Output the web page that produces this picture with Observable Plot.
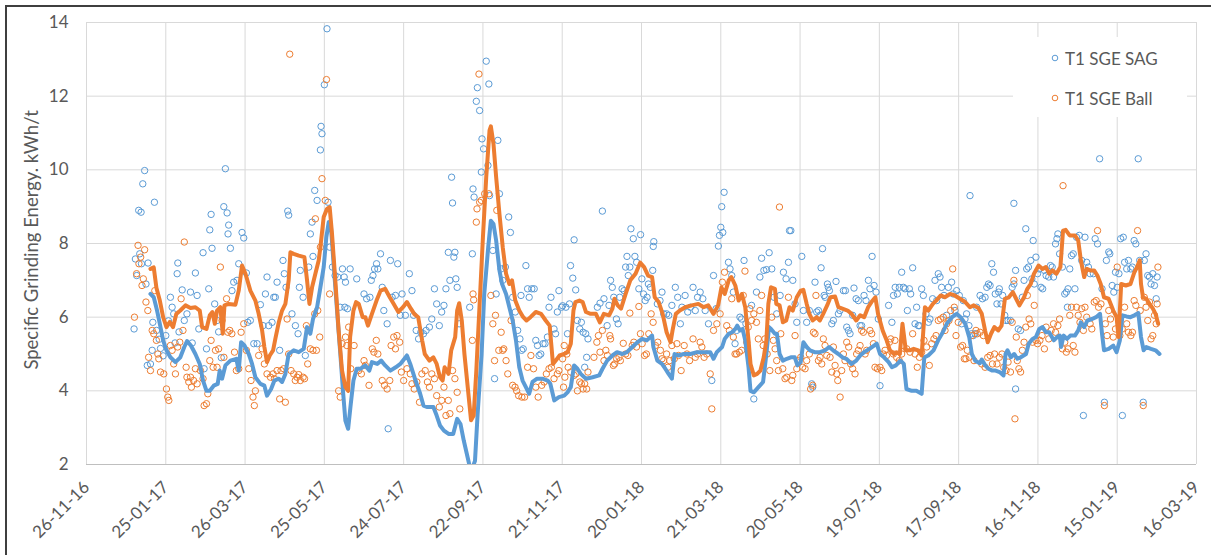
<!DOCTYPE html>
<html>
<head>
<meta charset="utf-8">
<script src="https://cdn.jsdelivr.net/npm/d3@7"></script>
<script src="https://cdn.jsdelivr.net/npm/@observablehq/plot@0.6"></script>
<style>
  body { margin: 0; background: #fff; font-family: Lato, "Open Sans", sans-serif; }
  #wrap { position: relative; width: 1211px; height: 555px; overflow: hidden; }
  #frame { position: absolute; left: 5px; top: 5px; width: 1300px; height: 700px;
           border-left: 2px solid #3f3f3f; border-top: 2px solid #3f3f3f; pointer-events: none; }
  #legend { position: absolute; left: 1013px; top: 37px; width: 174px; height: 80px; background: #fff;
            font-size: 17px; color: #595959; }
  #legend .item { position: absolute; left: 38px; display: flex; align-items: center; height: 20px; }
  #legend svg { margin-right: 6px; }
</style>
</head>
<body>
<div id="wrap">
  <div id="chart"></div>
  <div id="legend"></div>
  <div id="frame"></div>
</div>
<script>
// day offsets are counted from 26-11-16, the first tick
const startDate = Date.UTC(2016, 10, 26)
const tickDays = [0, 60, 120, 180, 240, 300, 360, 420, 480, 540, 600, 660, 720, 780, 840]
const yTicks = [2, 4, 6, 8, 10, 12, 14]
const seriesNames = ['T1 SGE SAG', 'T1 SGE Ball']
const yTitle = 'Specific Grinding Energy. kWh/t'

// daily SAG points [day, kWh/t]
const sagPts = [
  [36,5.68],[37,7.58],[38,7.13],[39.5,8.9],[40.3,7.72],[41.3,8.85],[41.6,7.45],[42.6,9.62],[44,9.98],[45,6.9],[46,4.69],[46.6,7.47],[48.4,4.73],[49.7,5.1],[50.2,5.86],[51.4,9.12],[53,5.64],[55,5.4],[56,5.15],[58,4.95],[60,5.5],[62,5.9],[63.5,6.54],[64.8,6.27],[66,6.09],[67,5.3],[68.6,7.18],[69.1,7.47],[70,5.6],[72.4,6.74],[74,5.91],[76,6.09],[78.7,6.68],[80,5.3],[82.4,7.2],[83.7,6.59],[85,5.68],[88.2,7.75],[89,4.6],[90.8,5.14],[92.5,6.77],[93.3,8.37],[94.3,8.79],[95,7.87],[97,6.36],[98.8,5.91],[100,5.6],[102,4.9],[103.9,9.0],[105.1,10.03],[106.4,8.83],[107.1,8.26],[107.6,8.5],[108.9,7.87],[110.1,6.72],[111.4,6.95],[113.9,7.0],[115.2,7.45],[117.7,8.3],[119,8.15],[121,7.2],[122,5.86],[124,5.91],[126.6,5.28],[129.1,5.28],[131.6,6.34],[133.6,5.77],[135.4,6.63],[136.6,7.09],[137.9,5.77],[140.4,5.86],[141.7,6.54],[142.9,6.54],[144.2,6.95],[146.2,5.1],[148.7,7.54],[149.7,7.18],[151,6.81],[152.3,8.88],[153,8.77],[155.5,6.09],[158.1,5.77],[160.1,5.55],[161.1,6.81],[161.8,7.27],[163.9,6.54],[165.6,4.96],[168.2,7.36],[169.4,8.26],[170.7,8.58],[171.4,7.65],[172.7,9.44],[174.5,9.17],[177,10.54],[177.5,11.18],[178.2,10.98],[180,12.31],[182,13.83],[182.8,9.12],[184,7.9],[186.1,7.36],[188.1,7.13],[190.1,7.09],[191.9,6.27],
  [193.7,7.31],[195,7.09],[195.5,6.27],[196,6.95],[197.5,6.23],[199.5,7.31],[204.5,7.04],[210,6.63],[212,6.5],[214.5,6.54],[215.5,7.0],[216.8,7.13],[218,7.31],[219.5,7.45],[220.5,7.31],[222.5,7.72],[223.8,6.81],[225,6.18],[227.5,5.82],[228.3,2.97],[230,7.54],[231.3,6.54],[233.8,6.59],[235.5,7.45],[237.5,6.05],[238.8,6.63],[241.3,6.05],[244.3,7.18],[246.3,6.72],[247.5,6.05],[249.5,5.64],[251.3,5.41],[253,5.59],[255,5.55],[257,5.64],[259.5,5.73],[261.3,5.95],[263.3,6.77],[265,6.36],[267,5.77],[268.8,6.14],[270.5,6.32],[272,6.77],[273.8,7.76],[275,7.0],[276.3,9.8],[277,9.1],[278,7.63],[278.8,7.76],[279.5,7.04],[280.5,6.81],[282,5.82],[290,6.27],[292,7.72],[292.5,9.48],[293.3,9.26],[295,11.86],[295.8,12.23],[297.5,11.61],[298.8,9.94],[299.3,10.84],[300.5,10.57],[302.5,12.95],[303.8,10.12],[304.5,12.33],[305,9.3],[307.5,7.81],[308.8,4.33],[310,6.63],[311.3,10.8],[312.5,9.35],[313.8,7.31],[315,7.0],[317,7.36],[319.5,8.72],[320.8,8.3],[322.5,6.54],[324.5,6.14],[326.3,5.64],[328,5.41],[328.8,6.59],[329.3,5.1],[330.5,5.14],[332.5,7.4],[333.8,6.77],[335,6.54],[337,6.77],[338.8,6.77],[340,5.37],[341.3,5.23],[342.5,4.96],[343.8,5.0],[345.5,5.28],[347,5.28],[348.8,5.46],[350,6.27],[351.5,6.54],[353.8,5.68],[355,5.55],[356.3,6.14],[357.5,6.72],
  [359.5,6.27],[360.3,6.31],[362.8,6.27],[364,5.55],[365.5,6.36],[366.3,7.4],[368,7.06],[369,8.1],[370.2,6.74],[371.4,5.91],[373.3,5.68],[374.5,5.86],[375.8,5.59],[377,4.64],[377.8,5.55],[378.5,4.91],[379.5,5.41],[386.6,6.27],[388.6,6.38],[390.4,8.88],[391.6,6.5],[394,5.77],[395.4,6.32],[396.6,7.0],[397.9,6.81],[399,6.54],[401,5.95],[402.3,5.82],[403.5,6.54],[405.3,6.77],[406.8,6.72],[408,7.36],[409,7.65],[410,7.13],[411.2,7.36],[412,8.4],[413.8,8.13],[415,7.65],[416.3,7.49],[418,6.77],[419.3,8.24],[420.3,7.04],[421.5,6.63],[422.8,6.45],[424.2,6.54],[425.2,6.9],[426.7,6.81],[428.5,7.27],[428.9,7.92],[429.3,8.05],[432,6.36],[434,6.45],[435.5,6.68],[436.8,6.09],[439,6.09],[440.6,6.05],[443,6.32],[445.6,6.81],[447.4,6.54],[449.4,5.82],[450.6,6.27],[453,6.59],[455,6.14],[457,6.27],[459,6.81],[460.7,6.18],[462.4,6.54],[464.4,6.68],[466.4,6.5],[468.2,6.18],[470.7,5.82],[473.2,4.28],[474.5,7.13],[476.5,6.23],[478.2,7.93],[479,8.22],[480,8.44],[480.7,9.0],[481.5,8.3],[482.5,9.39],[485.8,7.49],[487,7.31],[488.3,7.13],[489.5,6.68],[490.8,5.28],[492,5.64],[494.5,6.0],[495.8,5.95],[497.6,7.54],[499,5.82],[503.3,6.32],[505,3.78],[507,6.68],[509.6,7.09],[510.9,7.6],[512.6,7.27],[514.6,7.29],[516.6,7.75],
  [518.6,7.31],[520.3,6.54],[522.3,6.09],[524.9,6.59],[527.4,7.22],[529.4,7.04],[531.2,7.49],[532,8.35],[533,8.35],[534.5,7.0],[536.2,6.36],[537.5,5.86],[541.3,7.65],[542.5,6.18],[545,5.86],[547,6.18],[548.8,4.19],[549.6,4.1],[551.3,6.95],[552.6,6.14],[553.9,6.18],[555.1,6.05],[555.9,7.34],[557,7.86],[558.2,6.59],[559,6.54],[560.7,6.9],[561.4,6.81],[562.2,6.72],[564,5.82],[565.2,5.91],[567.2,6.97],[569,6.09],[570.2,6.18],[572.8,6.72],[574.3,6.72],[575.3,5.73],[576.6,5.64],[577.8,5.55],[579.8,6.05],[580.8,6.79],[582.4,6.5],[584.1,6.45],[585.4,5.77],[586.6,5.77],[588.4,6.59],[589.9,6.45],[591.7,7.0],[592.9,6.77],[594.5,7.65],[596,6.86],[597.5,6.68],[599.2,5.95],[600.5,4.14],[607,6.32],[609.5,5.86],[610.7,6.59],[612,6.81],[613.6,6.63],[615.1,6.81],[616.9,7.22],[618.2,6.81],[619.4,6.77],[621.2,6.18],[622.7,6.77],[623.7,6.63],[625.2,7.34],[627,5.82],[628.2,6.27],[629.5,5.77],[630.3,5.77],[632,6.77],[633.3,6.59],[635.3,6.09],[637.1,5.86],[638.3,5.95],[640.3,6.5],[642.1,7.0],[643.4,6.45],[644.6,7.18],[645.9,7.09],[647.1,6.81],[648.9,6.59],[650.9,6.05],[652.2,6.81],[654.7,6.95],[655.9,6.63],[657.2,6.18],[658.5,6.72],[660.5,6.59],[662.3,5.82],[663.5,6.45],[664.8,5.95],[666,6.09],[667.8,5.77],[668.6,9.3],[669.8,5.55],[671.1,5.5],[672.4,5.55],[673.6,6.27],
  [676.2,6.59],[678,6.5],[680,6.54],[681.3,6.81],[682.6,6.9],[683.8,6.86],[685.1,7.45],[686.4,7.22],[687.7,6.63],[689,6.36],[690.3,6.68],[690.8,6.77],[692.1,6.36],[693.3,6.59],[694.9,6.05],[695.9,5.91],[697.4,5.91],[699.2,5.91],[700.5,6.81],[701.8,6.9],[701.8,9.09],[703.1,7.27],[703.1,4.05],[705.1,5.68],[706.9,5.64],[708.2,6.54],[709.5,7.0],[710.8,8.4],[711.5,7.31],[712.8,7.36],[714.6,7.54],[715.4,7.04],[716.4,8.08],[717.2,6.9],[718.5,7.63],[719.7,7.18],[721,7.31],[722.3,6.81],[723.6,6.77],[724.9,7.27],[726.2,7.13],[728.2,7.09],[729.5,7.4],[730.8,7.36],[731.8,7.09],[733.3,7.99],[734.4,8.13],[735.1,8.26],[736.4,7.72],[738.5,7.36],[740.3,6.63],[741.5,6.68],[742.3,6.27],[742.8,6.77],[744.1,7.31],[745.4,7.67],[746.7,7.72],[748,6.77],[749.2,8.17],[751.3,8.22],[753.1,7.54],[754.4,3.33],[755.6,8.17],[756.9,7.49],[758.2,7.36],[759.5,7.18],[762,7.18],[763.3,8.13],[765.1,7.99],[766.7,10.3],[768.5,6.77],[770.3,3.69],[771.8,7.54],[773.6,7.77],[774.4,7.72],[776.2,6.86],[777.4,6.68],[778.7,7.22],[780,6.81],[781.3,7.18],[782.6,8.13],[783.9,3.33],[784.6,8.17],[785.6,7.49],[787.2,7.31],[788.5,7.54],[790.3,7.31],[791.5,7.36],[792.8,8.08],[794.1,7.99],[795.9,10.3],[797,7.54],[799.7,3.69],[800.5,7.54],[801.8,7.72],[803.1,7.13],[804.4,7.09],[805.6,6.9],[806.9,7.18],[808.2,6.86],[809.5,6.5],[810.2,7.09]
]

// daily Ball mill points [day, kWh/t]
const ballPts = [
  [36.3,6.0],[37.9,7.18],[39,7.95],[39.7,7.45],[41,7.63],[42,6.86],[43,7.04],[44,7.83],[45,6.41],[46.4,6.18],[47,4.91],[48.4,4.55],[49.7,5.64],[50.9,5.55],[51.7,6.72],[52.9,5.37],[54,5.0],[54.7,4.87],[56,4.51],[58.5,4.46],[60.5,4.05],[61.5,3.83],[62.3,3.74],[63.5,5.23],[64.8,5.1],[66,4.73],[67.3,4.46],[69,5.19],[70.6,5.32],[71.6,6.5],[73,5.64],[74,8.04],[75.4,4.64],[76,4.37],[77.4,4.24],[78.7,4.37],[79.4,4.1],[81,4.28],[82.4,4.6],[83.7,4.19],[86.2,4.55],[88.2,4.33],[89,3.6],[90.8,3.65],[91.8,3.92],[93.3,4.82],[94.3,5.37],[95.8,4.64],[97.6,5.1],[98.8,4.64],[100,5.14],[101.3,7.36],[102.6,5.91],[104,4.91],[106,6.5],[107,5.59],[108.4,5.64],[110,5.55],[112,5.05],[113.4,4.55],[115.2,4.6],[117,5.59],[119,5.82],[121,5.1],[122.8,4.6],[124.5,4.28],[126,3.83],[127,3.6],[127.8,4.0],[130.3,4.96],[132.9,5.14],[134.6,4.73],[136.6,4.46],[139.2,4.37],[141.2,4.46],[142.2,4.33],[144.2,4.55],[146.2,3.78],[147.2,4.55],[149.2,4.6],[150.5,3.69],[151.8,5.95],[153,5.0],[153.8,13.14],[154.8,4.55],[156.8,4.46],[158,4.28],[159.3,4.37],[160.6,4.44],[161.8,4.28],[163.9,4.37],[165,4.33],[166.4,5.77],[167.4,4.73],[169.4,5.14],[171.4,5.1],[172.7,6.09],[173.2,8.67],[174,5.1],[175,6.18],[176.5,5.46],[177,7.9],[178.2,9.76],[180.7,9.17],[181.6,12.45],[184,6.63],[190.8,4.0],[192,3.83],
  [193.4,5.28],[196,5.46],[197,5.23],[198.4,5.73],[200,4.6],[202.5,5.23],[206,4.55],[208,4.46],[210,4.82],[211,4.69],[213.8,4.15],[216.3,5.14],[217.5,5.05],[219.3,5.37],[220.5,5.0],[223.8,4.28],[225.5,4.15],[227.5,4.05],[229.5,4.28],[230.5,5.23],[232.5,5.46],[233.8,5.14],[235,5.5],[237,5.32],[238.3,4.51],[240,4.28],[242.5,4.6],[245,4.46],[246.3,4.19],[248,4.05],[250,4.24],[252,3.69],[253.8,4.46],[256.3,4.55],[258,4.24],[259.5,4.1],[261.3,4.46],[263.3,4.33],[265,3.87],[267,3.56],[268.8,3.74],[270.5,4.1],[272,3.33],[273.8,3.74],[275,3.38],[277,4.55],[278.8,4.33],[280.5,3.96],[282.5,3.51],[292,5.37],[292.5,6.63],[293,6.47],[295,8.58],[295.5,8.94],[297,12.6],[297.5,9.12],[298.8,9.17],[301.3,9.35],[304.5,9.35],[306,6.59],[307.5,5.82],[308.8,4.82],[309.5,6.05],[310.5,8.9],[312,5.1],[313.8,5.59],[315,5.1],[315.8,5.14],[317.5,4.82],[318.8,4.46],[321.3,5.91],[322.5,4.15],[324.3,4.1],[325.5,4.0],[327,3.87],[329.5,3.83],[331.5,3.83],[333.8,4.64],[336.3,4.96],[338.3,4.6],[340,4.1],[341.8,3.83],[344.5,4.15],[346.3,4.24],[348,4.46],[350,4.6],[351.8,4.64],[353.8,4.33],[356.3,4.46],[357.5,4.55],
  [360.3,4.87],[361,4.1],[361.5,5.23],[362,4.37],[363.5,5.0],[364.5,4.64],[366.5,4.51],[369,4.42],[370.3,4.46],[371.5,4.0],[373.3,4.24],[374.5,4.19],[375.8,4.05],[377,4.19],[378.5,4.05],[379.5,4.51],[384,4.91],[386.2,5.32],[387.4,5.5],[388.6,5.05],[390.4,5.64],[391.6,4.82],[393,5.1],[394.2,4.96],[396,5.5],[396.6,5.41],[398.7,4.69],[399.7,4.73],[401.2,4.87],[403,4.91],[404,4.82],[406.2,5.29],[408,5.0],[409.7,4.96],[411.2,6.11],[413,5.23],[414.2,5.32],[416.2,5.19],[418,6.29],[419.2,5.55],[420.5,5.28],[422.3,4.96],[423.7,5.0],[425.5,5.55],[427.3,6.09],[428.8,5.86],[430.5,5.23],[432.3,5.32],[434.3,5.1],[435.5,4.87],[436.8,4.82],[439,5.0],[440,4.64],[441.3,4.82],[443,5.23],[444.8,4.87],[446.8,5.28],[448,4.96],[450,4.55],[452.3,5.23],[454.4,5.0],[456.4,4.82],[459,5.41],[460.7,4.91],[462.4,5.0],[464.4,5.32],[465.7,5.19],[467.4,4.91],[469.4,5.0],[472,4.46],[473.2,3.51],[474.5,5.64],[477,5.82],[479.5,6.09],[481.2,6.95],[482.8,7.22],[484.5,5.77],[486.5,5.64],[488.3,6.5],[489.5,5.46],[490.8,5.0],[492,5.0],[494,5.05],[495.8,5.1],[497,6.59],[498.3,7.25],[499.6,5.32],[500.8,5.73],[502,6.23],[503.3,5.91],[505,6.09],[507,5.86],[508.4,5.41],[509.6,6.18],[510.9,6.59],[512.1,5.23],[513.4,5.41],[515.1,5.0],[517.1,4.55],
  [518.6,6.0],[519.8,5.37],[521.1,5.14],[522.3,4.82],[523.6,4.55],[524.4,8.99],[525.4,5.55],[526.9,4.6],[528.6,4.33],[529.9,4.37],[531.2,6.54],[533.7,4.28],[534.5,4.42],[536.2,5.5],[537.5,4.6],[538.7,4.82],[540.5,4.91],[542,4.64],[543.8,4.6],[545,4.82],[547,5.0],[548,4.05],[549.6,4.15],[550.1,5.59],[551.3,5.55],[552,6.59],[553.9,4.82],[555.1,4.91],[556.4,4.73],[557.6,5.41],[558.9,5.23],[560.2,4.96],[562.7,4.91],[564,4.51],[565.2,5.19],[566.5,4.69],[567.7,4.46],[568.5,4.28],[570.3,3.83],[571.5,4.55],[572.8,5.0],[574,4.82],[575.3,5.32],[576.8,5.19],[578.3,4.73],[579.8,4.6],[581.6,4.46],[582.8,5.0],[584.1,5.1],[585.4,5.23],[586.6,5.64],[587.9,5.59],[589.2,5.0],[590.4,5.1],[592.9,5.64],[594.2,5.55],[595.5,5.28],[596.7,4.64],[598.5,4.6],[600.5,4.64],[601.8,4.55],[603,5.0],[604.3,5.1],[605.5,4.96],[607.6,5.32],[608.6,5.41],[610.6,5.0],[611.8,5.37],[613.1,4.91],[615.1,4.82],[616.9,5.0],[618.2,5.23],[620.7,5.14],[623.2,5.05],[625.2,5.55],[627,5.0],[628.7,4.64],[630.3,4.91],[632,5.05],[633.8,5.37],[635.8,5.19],[637.8,4.69],[639.6,5.28],[641.3,5.41],[642.9,5.5],[644.6,5.91],[646.4,5.95],[648.4,6.0],[649.7,5.64],[650.9,5.82],[652.7,5.91],[654,6.18],[655.5,7.31],[656.7,6.27],[658,5.5],[659.7,5.86],[661.5,5.19],[663,5.23],[664.3,4.87],[665.5,4.87],[666.6,5.1],[668.1,4.91],[669.8,5.5],[671.6,4.82],[673.1,5.64],[674.1,5.55],
  [676.2,5.59],[677.5,4.73],[678.7,5.5],[680,4.64],[682,4.91],[683.8,4.96],[685.6,4.73],[687.2,5.0],[689,4.73],[690.8,4.91],[692.8,5.0],[694.1,4.64],[695.9,4.55],[697.4,4.78],[699.2,4.51],[700.5,5.86],[701.8,7.0],[702.6,3.24],[703.6,5.46],[704.4,4.82],[705.6,4.6],[706.9,4.51],[708.2,5.1],[709.5,5.32],[710.8,5.73],[712,6.59],[713.3,5.95],[714.6,5.82],[715.9,5.32],[717.2,6.32],[718.5,5.37],[719.7,5.28],[721.5,5.37],[723.1,5.5],[724.9,5.14],[726.2,5.73],[728.2,5.41],[730,5.64],[731.8,5.82],[733.3,5.59],[735.1,5.77],[736.4,5.95],[738.5,5.14],[739,9.57],[740.3,5.32],[741.5,5.05],[742.8,5.14],[744.1,6.05],[745.4,6.27],[746.7,5.23],[748,5.05],[749.2,6.27],[750.5,6.05],[751.8,5.86],[753.1,6.23],[754.4,5.64],[755.6,6.27],[756.9,6.0],[759.5,5.82],[760.8,5.68],[762.6,6.41],[764.1,6.45],[765.1,8.35],[765.9,6.27],[767.7,6.36],[770.3,3.6],[771,5.82],[772.3,5.5],[773.6,6.18],[774.9,5.95],[777,5.46],[778.7,5.68],[780,7.36],[782,5.5],[783.8,5.68],[785.6,6.27],[787.2,5.82],[788.5,5.59],[790.3,5.5],[791.5,5.59],[792.8,6.45],[794.1,6.32],[795.4,8.35],[797.4,6.18],[799.7,3.6],[800.5,6.54],[801.8,6.27],[803.1,5.91],[804.4,6.41],[805.6,5.41],[806.9,5.5],[808.2,6.05],[809.5,5.82],[810.2,6.36],[810.8,7.36]
]

// moving average of SAG [day, kWh/t]
const sagAvg = [
  [48.4,6.63],[50.9,6.54],[53.4,6.18],[55.5,5.82],[58,5.37],[60.5,5.1],[63.5,4.91],[67.3,4.78],[71,4.91],[74,5.19],[76.1,5.35],[79,5.23],[82.4,5.0],[85.7,4.73],[88.2,4.28],[90.8,4.0],[93.3,4.0],[96.3,4.14],[99.3,4.19],[100.8,4.55],[102.6,4.33],[105.1,4.69],[108.9,4.82],[113.4,4.87],[115.2,4.55],[117,5.32],[119.5,5.23],[122.8,5.0],[125.3,4.73],[127.8,4.37],[131.6,4.19],[134.6,4.14],[136.6,3.87],[139.7,4.05],[142.2,4.28],[145.5,4.33],[148,4.24],[150.5,4.46],[153,5.0],[156.8,5.1],[160.6,5.05],[164.4,5.14],[166.9,5.73],[169.4,5.55],[171.4,5.95],[174.5,6.27],[177,6.81],[179.5,7.36],[181.5,8.17],[183.3,8.58],[185,8.44],[187,7.45],[189.6,6.18],[192.1,5.0],[194.1,4.0],[195.9,3.19],[198,2.97],
  [200,3.65],[202,4.28],[204.5,4.6],[207.5,4.6],[211,4.69],[214,4.55],[216,4.78],[220,4.73],[223,4.82],[226,4.69],[230,4.55],[234,4.64],[237.5,4.73],[242.5,4.96],[245,4.73],[249,4.28],[252.5,3.92],[255,3.6],[258,3.56],[262.5,3.56],[265,3.33],[267.5,3.06],[270.5,2.92],[274,2.83],[277.5,2.83],[280.5,3.24],[283,3.1],[285.5,2.65],[289,2.1],[291,1.8],[294,2.1],[296,3.38],[299,5.0],[301,6.63],[304,7.9],[306,8.62],[308,8.53],[310,8.08],[312.5,7.27],[314.5,6.9],[317.5,6.63],[320,6.27],[322.5,5.91],[325,5.37],[327.5,4.64],[330,4.28],[332.5,4.1],[335,3.92],[337.5,4.24],[341,4.33],[345,4.33],[349,4.28],[351,4.19],[354,3.74],[357.5,3.83],
  [361.5,3.87],[364,3.96],[366.5,4.1],[369,4.69],[371.5,4.6],[374,4.46],[378,4.33],[383,4.37],[388,4.42],[390.5,4.6],[394,4.82],[398,4.96],[401.5,5.05],[405.5,5.0],[409,5.05],[413,5.19],[417,5.32],[420.5,5.41],[424,5.37],[428,5.5],[429,5.19],[432,4.82],[435.5,4.73],[438,4.6],[440.5,4.46],[443,4.33],[445,5.0],[448,4.96],[452,5.0],[457,5.0],[462,5.05],[467,5.05],[472,5.05],[474.5,4.87],[477,5.05],[481,5.19],[483,5.41],[486,5.55],[488.5,5.59],[491,5.68],[492.5,5.77],[494.5,5.64],[496.5,5.68],[498.5,5.37],[501,4.64],[502.5,4.0],[505,3.96],[508.5,4.1],[512,4.24],[514.5,5.0],[516.5,5.73],[518,5.68],
  [521,5.55],[522.5,5.55],[524.5,5.0],[527,4.82],[530,4.87],[533,4.91],[536,4.91],[538,4.69],[540.5,4.78],[542.5,5.32],[545,5.19],[547.5,5.1],[551,5.05],[555,5.05],[559,5.1],[562,5.19],[565,5.1],[569,5.0],[572,4.91],[575,4.87],[579,4.73],[582.5,4.82],[585.5,4.96],[588.5,5.05],[592.5,5.14],[596,5.23],[598,5.28],[600.5,5.0],[603.5,4.91],[607,4.78],[609.5,4.64],[612.5,4.69],[616,4.82],[618.5,4.73],[620.5,4.05],[624.5,4.0],[628,4.0],[632,3.92],[634,4.91],[637,4.96],[641,5.1],[644.5,5.37],[648,5.59],[651,5.82],[655,6.0],[658.5,6.09],[661.5,6.0],[665,5.82],[668,5.46],[670,5.0],[672.5,4.82],[676,4.75],
  [677.5,4.85],[680,4.7],[682.5,4.6],[685.5,4.55],[688,4.55],[691,4.51],[694,4.42],[695.5,5.0],[697,5.1],[699.5,4.91],[702,5.0],[704.5,4.87],[707,4.91],[711,5.0],[713,5.28],[716,5.41],[718.5,5.46],[721,5.68],[723.5,5.73],[726,5.59],[728.5,5.59],[732,5.37],[734.5,5.46],[736.5,5.5],[737.5,5.19],[739.5,5.5],[742,5.41],[744.5,5.5],[748,5.5],[750.5,5.64],[752.5,5.86],[755,5.73],[757.5,5.91],[761,5.95],[764,6.0],[767,6.09],[768.5,5.55],[770,5.1],[773.5,5.14],[777,5.23],[779.5,5.05],[782,5.37],[784,6.05],[787,6.02],[790,6.0],[793,6.05],[796,6.11],[798,5.46],[800,5.1],[802,5.19],[805.5,5.14],[809,5.1],[812,5.0]
]

// moving average of Ball [day, kWh/t]
const ballAvg = [
  [48.4,7.31],[50.9,7.35],[52.9,6.8],[55.5,6.45],[58,6.0],[60.5,5.73],[63,5.87],[65.5,5.73],[68,6.09],[71,6.18],[74.9,6.32],[78.7,6.25],[82.4,6.27],[85.7,6.18],[87.5,5.73],[90.8,5.68],[93.3,6.05],[95.3,6.14],[97.1,5.82],[98.8,6.18],[101.3,6.27],[103.1,5.55],[104.4,6.32],[107.6,6.36],[112.7,6.34],[115.2,6.72],[117.7,7.4],[120.3,7.18],[124,6.72],[127.8,6.45],[130.3,6.09],[132.9,5.64],[134.6,5.19],[136.6,4.78],[138.7,4.96],[141.2,5.1],[142.9,5.41],[145.5,5.86],[148,6.18],[150.5,6.36],[153,7.0],[154.3,7.76],[156.8,7.72],[160.6,7.67],[164.9,7.63],[166.9,7.0],[168.7,6.36],[170.7,6.81],[173.2,7.18],[175.7,7.54],[177,7.9],[179.5,8.72],[182,8.94],[184,8.99],[185.8,8.26],[188.3,7.0],[190.8,5.64],[193.4,4.55],[195.9,4.1],[198,4.0],
  [199.5,5.46],[202,6.18],[204,6.41],[206,6.36],[209,6.0],[211,6.0],[213,5.77],[216,6.09],[219.5,6.45],[222.5,6.72],[226,6.77],[229.5,6.54],[232.5,6.36],[236,6.14],[239.5,6.27],[242.5,6.41],[245.5,6.23],[248,6.09],[251,6.0],[254,5.37],[256,5.0],[259.5,4.82],[262.5,4.91],[265,4.73],[267.5,4.37],[269.5,4.28],[271,4.64],[274,4.46],[276,5.1],[279,5.46],[280.5,6.18],[282,6.38],[284,5.91],[286,5.0],[289,3.92],[291,3.2],[293,3.33],[295,4.55],[297.5,6.36],[300,8.17],[302.5,9.8],[305,11.07],[306,11.18],[308,10.7],[310,9.8],[312.5,8.8],[315,7.9],[317.5,7.18],[320,6.9],[322,7.0],[324.5,6.45],[327.5,6.18],[330.5,6.0],[333,5.91],[336,6.0],[340,6.14],[344,6.09],[347.5,5.91],[350.5,5.77],[353,4.73],[355,4.82],[358,4.96],
  [361.5,5.0],[364,5.05],[366.5,5.28],[368.5,6.18],[370,6.41],[373,6.45],[375.5,6.41],[378,6.14],[381.5,6.09],[385.5,6.09],[388.5,5.86],[391.5,6.09],[395.5,6.05],[398,6.23],[399.5,6.5],[402,6.32],[404.5,6.23],[408,6.63],[411.5,7.0],[415.5,7.18],[419,7.48],[422,7.36],[425,7.13],[428,7.09],[430,6.54],[433,6.41],[436,6.09],[439,5.59],[442,5.32],[443.5,5.64],[446,6.09],[449,6.18],[453,6.27],[458,6.32],[463,6.36],[467,6.27],[470.5,6.32],[474.5,6.09],[478,6.32],[480.5,6.81],[483,6.63],[486,7.0],[488,7.09],[491,6.86],[493.5,6.45],[496,6.63],[498.5,6.27],[501,5.37],[502.5,4.73],[505,4.42],[507.5,4.46],[510,4.55],[512.5,4.91],[514.5,5.37],[516,6.36],[518,6.81],[521,6.77],
  [522,6.36],[524.5,6.32],[527,5.86],[529.5,5.91],[532,6.27],[534.5,6.18],[537.5,6.54],[540.5,6.72],[542.5,6.74],[545,6.36],[547,6.09],[549.5,5.91],[552.5,6.0],[555,5.91],[557.5,6.09],[560.5,6.32],[563,6.54],[566.5,6.56],[569,6.27],[572,6.23],[576,6.18],[579,6.09],[582.5,5.91],[585.5,6.05],[588.5,6.0],[591.5,6.27],[594,6.41],[597,6.54],[599,6.09],[602.5,5.64],[605.5,5.37],[608,5.1],[611,5.0],[613,5.05],[615.5,5.0],[617.5,5.82],[620,5.1],[623,5.1],[626,5.14],[629.5,5.1],[632,4.96],[634.5,6.27],[637,6.18],[640.5,6.36],[643,6.45],[646.5,6.59],[649.5,6.54],[653.5,6.63],[657,6.59],[661,6.5],[665,6.41],[668.5,6.27],[671.5,6.32],[675,6.25],
  [677.5,6.09],[680,5.64],[682,5.32],[684.5,5.55],[687,5.73],[690,5.64],[692.5,5.77],[695,6.5],[698,6.54],[701,6.68],[703.5,6.5],[706,6.32],[709.5,6.54],[712,6.77],[714.5,6.9],[717,7.18],[720.5,7.4],[723.5,7.31],[726,7.36],[728.5,7.18],[731,7.27],[734,7.18],[737,7.36],[739,8.35],[741,8.37],[744,8.22],[748,8.22],[750.5,8.08],[752.5,7.54],[755,7.09],[757,7.31],[759.5,7.27],[762.5,7.27],[765,7.13],[767.5,6.9],[770,6.54],[773.5,6.5],[777,6.18],[779.5,6.0],[781,5.46],[783,6.9],[786.5,6.86],[790,6.9],[793,7.22],[795,7.36],[797,7.54],[798,6.9],[799.5,6.54],[802,6.5],[804.5,6.36],[807,6.23],[809,6.09],[811,5.82]
]

const blue = '#5b9bd5'
const orange = '#ed7d31'
const dayMs = 864e5
const toDate = d => new Date(startDate + d * dayMs)

const asRows = arr => arr.map(([d, v]) => ({date: toDate(d), value: v}))
const sag = asRows(sagPts)
const ball = asRows(ballPts)
const sagLine = asRows(sagAvg)
const ballLine = asRows(ballAvg)
const tickDates = tickDays.map(toDate)

let chart = Plot.plot({
  width: 1211,
  height: 555,
  marginLeft: 86,
  marginRight: 15,
  marginTop: 22,
  marginBottom: 91,
  style: {
    fontFamily: 'Lato, "Open Sans", sans-serif',
    fontSize: '17px',
    color: '#595959',
    background: 'transparent',
    overflow: 'visible',
  },
  x: {
    type: 'utc',
    domain: [toDate(0), toDate(840)],
    ticks: tickDates,
    tickFormat: d3.utcFormat('%d-%m-%y'),
    tickRotate: -45,
    tickSize: 0,
    tickPadding: 20,
    label: null,
  },
  y: {
    domain: [2, 14],
    ticks: yTicks,
    tickSize: 0,
    tickPadding: 18,
    label: null,
  },
  marks: [
    Plot.ruleX(tickDates, {stroke: '#d9d9d9', strokeWidth: 1}),
    Plot.ruleY(yTicks.slice(1), {stroke: '#d9d9d9', strokeWidth: 1}),
    Plot.ruleY([2], {stroke: '#bfbfbf', strokeWidth: 1.2}),
    Plot.dot(sag, {x: 'date', y: 'value', r: 3.2, stroke: blue, strokeWidth: 1, fill: 'none', clip: true}),
    Plot.dot(ball, {x: 'date', y: 'value', r: 3.2, stroke: orange, strokeWidth: 1, fill: 'none', clip: true}),
    Plot.line(sagLine, {x: 'date', y: 'value', stroke: blue, strokeWidth: 4, clip: true}),
    Plot.line(ballLine, {x: 'date', y: 'value', stroke: orange, strokeWidth: 4, clip: true}),
    Plot.text([yTitle], {
      y: [8.1],
      frameAnchor: 'left',
      dx: -54,
      rotate: -90,
      textAnchor: 'middle',
      fontSize: 18.5,
      fill: '#595959',
      text: d => d,
    }),
  ],
})

d3.select('#chart').append(() => chart)

// legend: open circle markers like the scatter series
const legend = d3.select('#legend')
seriesNames.forEach((name, i) => {
  const item = legend.append('div').attr('class', 'item').style('top', (11 + i * 40) + 'px')
  const svg = item.append('svg').attr('width', 8).attr('height', 8)
  svg.append('circle').attr('cx', 4).attr('cy', 4).attr('r', 2.8)
    .attr('fill', 'none').attr('stroke', i === 0 ? blue : orange).attr('stroke-width', 1)
  item.append('span').text(name)
})
</script>
</body>
</html>
